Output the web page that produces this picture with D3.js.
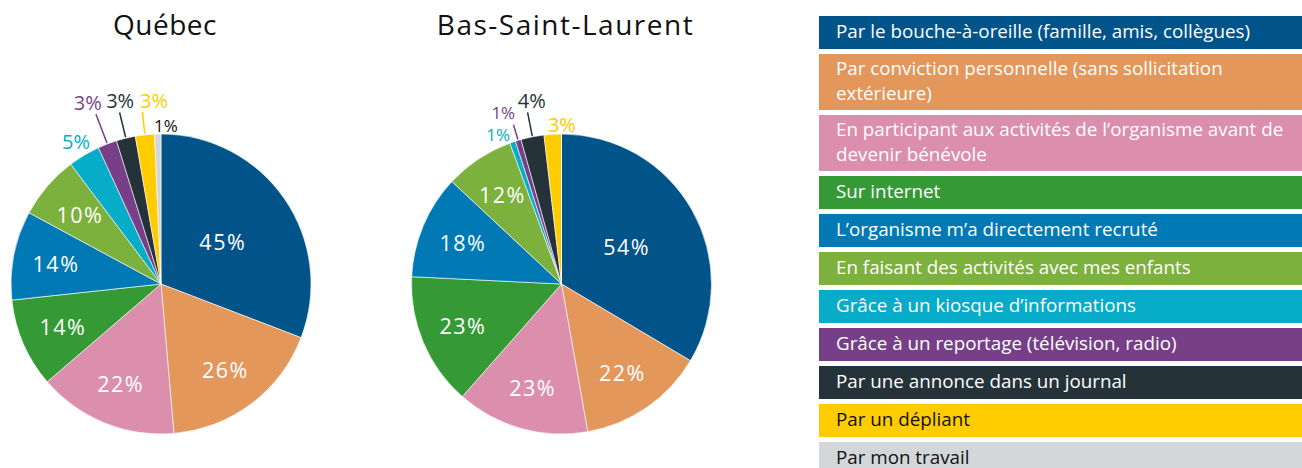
<!DOCTYPE html>
<html>
<head>
<meta charset="utf-8">
<script src="https://cdn.jsdelivr.net/npm/d3@7"></script>
<style>
  body { margin: 0; background: #fff; }
  text { font-family: "Open Sans", "Noto Sans", sans-serif; }
</style>
</head>
<body>
<div id="chart"></div>
<script>
// Categories (legend order = slice order)
const categories = [
    "Par le bouche-à-oreille (famille, amis, collègues)",
    "Par conviction personnelle (sans sollicitation\nextérieure)",
    "En participant aux activités de l’organisme avant de\ndevenir bénévole",
    "Sur internet",
    "L’organisme m’a directement recruté",
    "En faisant des activités avec mes enfants",
    "Grâce à un kiosque d’informations",
    "Grâce à un reportage (télévision, radio)",
    "Par une annonce dans un journal",
    "Par un dépliant",
    "Par mon travail"
];
const colors = ["#01548a", "#e3975b", "#db8fad", "#359a35", "#0079b4", "#7db13e",
                "#06acc8", "#773f87", "#25323a", "#ffcc00", "#d4d7d9"];
const legendTextColors = ["#fff", "#fff", "#fff", "#fff", "#fff", "#fff", "#fff", "#fff", "#fff", "#111", "#111"];

// Percent values (multiple answers allowed)
const quebecValues = [45, 26, 22, 14, 14, 10, 5, 3, 3, 3, 1];
const bslValues    = [54, 22, 23, 23, 18, 12, 1, 1, 4, 3, 0];

// Hand-placed callouts for the thin slices: index, text radius, angle nudge (deg), leader line
const quebecCallouts = [
    { i: 6, r: 166, da: 0 },
    { i: 7, r: 196, da: -1, leader: true },
    { i: 8, r: 188, da: 1, leader: true },
    { i: 9, r: 184, da: 4, leader: true },
    { i: 10, r: 159, da: 3 }
];
const bslCallouts = [
    { i: 6, r: 162, da: -4 },
    { i: 7, r: 181, da: -2, leader: true },
    { i: 8, r: 186, da: 2, leader: true },
    { i: 9, r: 160, da: 3.5 }
];

const width = 1302, height = 468;
const radius = 150;

const svg = d3.select("#chart")
    .append("svg")
    .attr("width", width)
    .attr("height", height);

const pie = d3.pie().sort(null).value(d => d);
const arc = d3.arc().innerRadius(0).outerRadius(radius);

function drawPie(title, values, callouts, cx, cy) {
    const g = svg.append("g").attr("transform", `translate(${cx},${cy})`);
    const arcs = pie(values);

    // Title
    svg.append("text")
        .attr("x", cx + 4)
        .attr("y", 35)
        .attr("text-anchor", "middle")
        .style("font-size", "28px")
        .style("letter-spacing", title.length > 10 ? "1.5px" : "0.5px")
        .attr("fill", "#111")
        .text(title);

    // Slices
    g.selectAll("path")
        .data(arcs)
        .enter()
        .append("path")
        .attr("d", arc)
        .attr("fill", (d, i) => colors[i])
        .attr("stroke", "#fff")
        .attr("stroke-width", 0.6);

    // Labels inside the bigger slices
    const inner = arcs.filter(d => d.data >= 6);
    g.selectAll(".inlabel")
        .data(inner)
        .enter()
        .append("text")
        .attr("class", "inlabel")
        .attr("transform", d => {
            const a = (d.startAngle + d.endAngle) / 2;
            const r = (d.endAngle - d.startAngle) > Math.PI / 2 ? 75 : 107;
            return `translate(${r * Math.sin(a)},${-r * Math.cos(a)})`;
        })
        .attr("text-anchor", "middle")
        .attr("dominant-baseline", "central")
        .attr("fill", "#fff")
        .style("font-size", "21.5px")
        .style("letter-spacing", "1.5px")
        .text(d => d.data + "%");

    // Callouts for the thin slices
    callouts.forEach(c => {
        const d = arcs[c.i];
        const mid = (d.startAngle + d.endAngle) / 2;
        const a = mid + c.da * Math.PI / 180;
        const tx = c.r * Math.sin(a), ty = -c.r * Math.cos(a);
        const col = c.i === 10 ? "#111" : colors[c.i];

        if (c.leader) {
            const rEnd = (-(ty + 12)) / Math.cos(mid);
            g.append("line")
                .attr("x1", (radius + 1) * Math.sin(mid))
                .attr("y1", -(radius + 1) * Math.cos(mid))
                .attr("x2", rEnd * Math.sin(mid))
                .attr("y2", -rEnd * Math.cos(mid))
                .attr("stroke", col)
                .attr("stroke-width", 1.5);
        }

        g.append("text")
            .attr("x", tx)
            .attr("y", ty)
            .attr("text-anchor", "middle")
            .attr("dominant-baseline", "central")
            .attr("fill", col)
            .style("font-size", d.data <= 1 ? "17px" : "20px")
            .text(d.data + "%");
    });
}

drawPie("Québec", quebecValues, quebecCallouts, 161, 284);
drawPie("Bas-Saint-Laurent", bslValues, bslCallouts, 561.5, 284);

// Legend
const legend = svg.append("g");
let yPos = 16;
categories.forEach((label, i) => {
    const lines = label.split("\n");
    const h = lines.length === 1 ? 33 : 56;

    legend.append("rect")
        .attr("x", 819)
        .attr("y", yPos)
        .attr("width", width - 819)
        .attr("height", h)
        .attr("fill", colors[i]);

    const t = legend.append("text")
        .attr("x", 836)
        .attr("y", yPos + (lines.length === 1 ? 22 : 21))
        .attr("fill", legendTextColors[i])
        .style("font-size", "18.8px");
    lines.forEach((ln, k) => {
        t.append("tspan")
            .attr("x", 836)
            .attr("dy", k === 0 ? 0 : 25)
            .text(ln);
    });

    yPos += h + 5;
});
</script>
</body>
</html>
